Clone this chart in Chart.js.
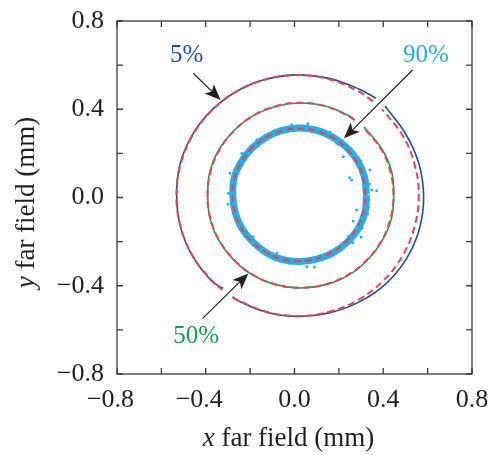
<!DOCTYPE html>
<html>
<head>
<meta charset="utf-8">
<script src="https://cdn.jsdelivr.net/npm/chart.js@4"></script>
<style>
  html, body { margin: 0; padding: 0; background: #fff; }
</style>
</head>
<body>
<canvas id="farfield" width="490" height="455"></canvas>
<script>
// 5% contour: fitted circle and measured trace (null = break where arrow passes)
const fit5X = [-0.280, -0.259, -0.127, 0.014, 0.155, 0.287, 0.400, 0.487, 0.541, 0.560, 0.541, 0.487, 0.395, null, 0.354, 0.287, 0.155, 0.014, -0.127, -0.259, -0.372, -0.459, -0.513, -0.532, -0.513, -0.459, -0.372, -0.326];
const fit5Y = [-0.451, -0.464, -0.518, -0.537, -0.518, -0.464, -0.377, -0.264, -0.132, 0.009, 0.150, 0.282, 0.400, null, 0.436, 0.482, 0.536, 0.555, 0.536, 0.482, 0.395, 0.282, 0.150, 0.009, -0.132, -0.264, -0.377, -0.418];
const ring5X = [-0.279, -0.258, -0.126, 0.015, 0.156, 0.292, 0.413, 0.506, 0.564, 0.582, 0.560, 0.500, 0.408, null, 0.367, 0.292, 0.156, 0.015, -0.126, -0.258, -0.373, -0.461, -0.516, -0.531, -0.514, -0.460, -0.374, -0.321];
const ring5Y = [-0.450, -0.466, -0.520, -0.539, -0.523, -0.473, -0.390, -0.275, -0.138, 0.009, 0.155, 0.290, 0.415, null, 0.450, 0.491, 0.540, 0.556, 0.537, 0.483, 0.396, 0.283, 0.150, 0.008, -0.133, -0.265, -0.378, -0.412];

// 50% contour
const fit50X = [0.270, 0.237, 0.135, 0.027, -0.081, -0.183, -0.269, -0.336, -0.378, -0.392, -0.378, -0.336, -0.269, -0.183, -0.081, 0.027, 0.135, 0.237, 0.323, 0.390, 0.432, 0.446, 0.432, 0.390, 0.311];
const fit50Y = [0.351, 0.373, 0.415, 0.429, 0.415, 0.373, 0.306, 0.220, 0.118, 0.010, -0.098, -0.200, -0.286, -0.353, -0.395, -0.409, -0.395, -0.353, -0.286, -0.200, -0.098, 0.010, 0.118, 0.220, 0.318];
const ring50X = [0.272, 0.238, 0.136, 0.028, -0.080, -0.184, -0.271, -0.338, -0.381, -0.391, -0.380, -0.337, -0.270, -0.184, -0.080, 0.028, 0.136, 0.239, 0.325, 0.392, 0.436, 0.447, 0.437, 0.393, 0.313];
const ring50Y = [0.352, 0.374, 0.416, 0.428, 0.414, 0.372, 0.305, 0.221, 0.118, 0.010, -0.099, -0.201, -0.287, -0.354, -0.396, -0.410, -0.396, -0.355, -0.288, -0.201, -0.099, 0.012, 0.120, 0.221, 0.320];

// 90% contour (closed) plus scattered pixels
const fit90X = [0.320, 0.310, 0.280, 0.232, 0.170, 0.098, 0.020, -0.058, -0.130, -0.192, -0.240, -0.270, -0.280, -0.270, -0.240, -0.192, -0.130, -0.058, 0.020, 0.098, 0.170, 0.232, 0.280, 0.310, 0.320];
const fit90Y = [0.012, 0.090, 0.162, 0.224, 0.272, 0.302, 0.312, 0.302, 0.272, 0.224, 0.162, 0.090, 0.012, -0.066, -0.138, -0.200, -0.248, -0.278, -0.288, -0.278, -0.248, -0.200, -0.138, -0.066, 0.012];
const ring90X = [0.324, 0.315, 0.284, 0.233, 0.168, 0.096, 0.018, -0.060, -0.131, -0.193, -0.241, -0.272, -0.278, -0.268, -0.238, -0.190, -0.128, -0.056, 0.022, 0.100, 0.173, 0.236, 0.287, 0.318, 0.324];
const ring90Y = [0.014, 0.094, 0.167, 0.229, 0.276, 0.306, 0.315, 0.303, 0.271, 0.222, 0.160, 0.089, 0.012, -0.065, -0.138, -0.199, -0.250, -0.281, -0.290, -0.279, -0.251, -0.204, -0.142, -0.067, 0.014];
const dots90X = [0.122, -0.125, 0.220, 0.257, 0.348, 0.318, 0.280, 0.265, 0.242, 0.115, 0.055, -0.022, -0.080, -0.186, -0.276, -0.298, -0.291, -0.238, -0.170, 0.190, 0.340, 0.333, 0.310, 0.370, -0.013, 0.160, 0.300, -0.300, 0.060, 0.090,
  0.338, 0.336, 0.330, 0.300, 0.305, 0.255, 0.262, 0.200, 0.248];
const dots90Y = [0.306, 0.283, 0.185, 0.079, 0.034, 0.019, -0.057, -0.107, -0.178, -0.268, -0.314, -0.298, -0.253, -0.178, -0.057, 0.019, 0.110, 0.200, 0.261, 0.246, 0.125, -0.042, -0.102, 0.030, 0.330, 0.295, -0.180, -0.030, 0.335, -0.315,
  0.060, -0.010, -0.075, 0.165, -0.140, 0.222, -0.205, 0.240, 0.090];

// callouts (data coordinates)
const calloutText = ["5%", "50%", "90%"];
const calloutColor = ["#1d4f9e", "#19a04f", "#27aee6"];
const calloutX = [-0.486, -0.443, 0.592];
const calloutY = [0.646, -0.631, 0.646];
const arrowFromX = [-0.456, -0.414, 0.532];
const arrowFromY = [0.563, -0.548, 0.578];
const arrowToX = [-0.333, -0.208, 0.223];
const arrowToY = [0.442, -0.344, 0.268];

const pts = (xs, ys) => xs.map((x, i) => ({ x: x, y: ys[i] }));

const RED = "#e6454d";
const fitStyle = { borderColor: RED, borderWidth: 2, borderDash: [7, 4], pointRadius: 0, tension: 0.4, fill: false };

const serif = "'Liberation Serif', 'Times New Roman', serif";
Chart.defaults.font.family = serif;
Chart.defaults.color = "#231f20";

const tickLabel = (pad) => (v) => {
  const k = Math.round(v * 10);
  if (k % 4 !== 0) return "";
  const s = Math.abs(v).toFixed(1);
  return k < 0 ? "\u2212" + s + pad : s;
};

function drawMixed(ctx, parts, cx, baseline) {
  let total = 0;
  parts.forEach((p) => { ctx.font = p[1]; total += ctx.measureText(p[0]).width; });
  let x = cx - total / 2;
  parts.forEach((p) => {
    ctx.font = p[1];
    ctx.fillText(p[0], x, baseline);
    x += ctx.measureText(p[0]).width;
  });
}

const framePlugin = {
  id: "framePlugin",
  afterDraw(chart) {
    const { ctx, chartArea: a } = chart;
    const xs = chart.scales.x, ys = chart.scales.y;
    ctx.save();
    // frame + inward ticks
    ctx.strokeStyle = "#3a3a3a";
    ctx.lineWidth = 1.3;
    ctx.strokeRect(a.left, a.top, a.right - a.left, a.bottom - a.top);
    ctx.beginPath();
    xs.ticks.forEach((t) => {
      const p = xs.getPixelForValue(t.value);
      ctx.moveTo(p, a.bottom); ctx.lineTo(p, a.bottom - 6);
      ctx.moveTo(p, a.top); ctx.lineTo(p, a.top + 6);
    });
    ys.ticks.forEach((t) => {
      const p = ys.getPixelForValue(t.value);
      ctx.moveTo(a.left, p); ctx.lineTo(a.left + 6, p);
      ctx.moveTo(a.right, p); ctx.lineTo(a.right - 6, p);
    });
    ctx.stroke();

    // arrows
    ctx.strokeStyle = "#231f20";
    ctx.fillStyle = "#231f20";
    ctx.lineWidth = 1.2;
    arrowFromX.forEach((_, i) => {
      const x0 = xs.getPixelForValue(arrowFromX[i]), y0 = ys.getPixelForValue(arrowFromY[i]);
      const x1 = xs.getPixelForValue(arrowToX[i]), y1 = ys.getPixelForValue(arrowToY[i]);
      const ang = Math.atan2(y1 - y0, x1 - x0);
      const L = 16, W = 6.5, N = 4;
      const c = Math.cos(ang), s = Math.sin(ang);
      ctx.beginPath();
      ctx.moveTo(x0, y0);
      ctx.lineTo(x1 - c * (L - N), y1 - s * (L - N));
      ctx.stroke();
      ctx.beginPath();
      ctx.moveTo(x1, y1);
      ctx.lineTo(x1 - c * L - s * W, y1 - s * L + c * W);
      ctx.lineTo(x1 - c * (L - N), y1 - s * (L - N));
      ctx.lineTo(x1 - c * L + s * W, y1 - s * L - c * W);
      ctx.closePath();
      ctx.fill();
    });

    // callout labels
    ctx.font = "25px " + serif;
    ctx.textAlign = "center";
    ctx.textBaseline = "middle";
    calloutText.forEach((t, i) => {
      ctx.fillStyle = calloutColor[i];
      ctx.fillText(t, xs.getPixelForValue(calloutX[i]), ys.getPixelForValue(calloutY[i]));
    });

    // axis titles
    ctx.fillStyle = "#231f20";
    ctx.textAlign = "left";
    ctx.textBaseline = "alphabetic";
    const it = "italic 27px " + serif, rm = "27px " + serif;
    drawMixed(ctx, [["x", it], [" far field (mm)", rm]], (a.left + a.right) / 2 - 6, 446);
    ctx.translate(34, (a.top + a.bottom) / 2 + 5);
    ctx.rotate(-Math.PI / 2);
    drawMixed(ctx, [["y", it], [" far field (mm)", rm]], 0, 0);
    ctx.restore();
  }
};

new Chart(document.getElementById("farfield"), {
  type: "line",
  data: {
    datasets: [
      { data: pts(fit5X, fit5Y), ...fitStyle },
      { data: pts(fit50X, fit50Y), ...fitStyle },
      { data: pts(fit90X, fit90Y), ...fitStyle },
      { data: pts(ring5X, ring5Y), borderColor: "#1d4f9e", borderWidth: 1.6, pointRadius: 0, tension: 0.4 },
      { data: pts(ring50X, ring50Y), borderColor: "#19a04f", borderWidth: 1.6, pointRadius: 0, tension: 0.4 },
      { data: pts(dots90X, dots90Y), showLine: false, pointStyle: "rect", pointRadius: 1.8, pointBorderWidth: 0, pointBackgroundColor: "#27aee6" },
      { data: pts(ring90X, ring90Y), borderColor: "#27aee6", borderWidth: 7, pointRadius: 0, tension: 0.4 }
    ]
  },
  options: {
    responsive: false,
    animation: false,
    events: [],
    layout: { padding: { top: 21, right: 18, left: 0, bottom: 0 } },
    plugins: { legend: { display: false }, tooltip: { enabled: false } },
    scales: {
      x: {
        type: "linear",
        min: -0.8,
        max: 0.8,
        grid: { display: false, drawTicks: false },
        border: { display: false },
        ticks: { stepSize: 0.2, autoSkip: false, maxRotation: 0, padding: 11, font: { size: 26 }, callback: tickLabel("\u2002") },
        afterFit: (s) => { s.height = 81; s.paddingLeft = 0; s.paddingRight = 0; }
      },
      y: {
        type: "linear",
        min: -0.8,
        max: 0.8,
        grid: { display: false, drawTicks: false },
        border: { display: false },
        ticks: { stepSize: 0.2, autoSkip: false, padding: 13, font: { size: 26 }, callback: tickLabel("") },
        afterFit: (s) => { s.width = 117; s.paddingTop = 0; s.paddingBottom = 0; }
      }
    }
  },
  plugins: [framePlugin]
});
</script>
</body>
</html>
